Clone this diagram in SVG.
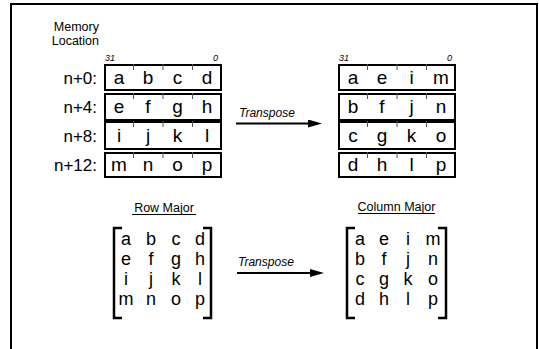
<svg xmlns="http://www.w3.org/2000/svg" width="539" height="349" viewBox="0 0 539 349">
<style>
text{font-family:"Liberation Sans",Arial,sans-serif;fill:#000}
.cell{font-size:19px;text-anchor:middle}
.lbl{font-size:17px;text-anchor:end}
.bit{font-size:9px;font-style:italic}
.mat{font-size:18px;text-anchor:middle}
.box{fill:#fff;stroke:#000;stroke-width:2}
.tick{stroke:#555;stroke-width:1}
.arr{stroke:#000;stroke-width:2;fill:none}
.brk{stroke:#000;stroke-width:2.5;fill:none}
.ttl{font-size:12.5px;text-anchor:middle}
.tr{font-size:12px;font-style:italic}
.mem{font-size:12.5px;text-anchor:end}
</style>
<defs>
<marker id="ah" markerUnits="userSpaceOnUse" markerWidth="14" markerHeight="8" refX="2" refY="4" orient="auto">
<path d="M0,0 L14,4 L0,8 z" fill="#000"/>
</marker>
</defs>
<rect id="frame" x="11" y="4" width="526" height="400" fill="none" stroke="#000" stroke-width="2"/>
<g id="memory-label">
<text class="mem" x="99" y="30.5">Memory</text>
<text class="mem" x="99" y="44.5">Location</text>
<text class="lbl" x="97" y="84">n+0:</text>
<text class="lbl" x="97" y="113">n+4:</text>
<text class="lbl" x="97" y="142">n+8:</text>
<text class="lbl" x="97" y="171">n+12:</text>
</g>
<g id="row-major-memory">
<text class="bit" x="105" y="61">31</text>
<text class="bit" x="218" y="61" text-anchor="end">0</text>
<rect class="box" x="105" y="65" width="116" height="25"/>
<rect class="box" x="105" y="94" width="116" height="26"/>
<rect class="box" x="105" y="122" width="116" height="27"/>
<rect class="box" x="105" y="153" width="116" height="24"/>
<path class="tick" d="M133.5,64v6M163,64v6M192.5,64v6M133.5,93v6M163,93v6M192.5,93v6M133.5,121v6M163,121v6M192.5,121v6M133.5,152v6M163,152v6M192.5,152v6"/>
<text class="cell" x="119" y="84">a</text><text class="cell" x="148" y="84">b</text><text class="cell" x="177.5" y="84">c</text><text class="cell" x="207" y="84">d</text>
<text class="cell" x="119" y="113">e</text><text class="cell" x="148" y="113">f</text><text class="cell" x="177.5" y="113">g</text><text class="cell" x="207" y="113">h</text>
<text class="cell" x="119" y="142">i</text><text class="cell" x="148" y="142">j</text><text class="cell" x="177.5" y="142">k</text><text class="cell" x="207" y="142">l</text>
<text class="cell" x="119" y="171">m</text><text class="cell" x="148" y="171">n</text><text class="cell" x="177.5" y="171">o</text><text class="cell" x="207" y="171">p</text>
</g>
<g id="column-major-memory">
<text class="bit" x="339" y="61">31</text>
<text class="bit" x="452" y="61" text-anchor="end">0</text>
<rect class="box" x="339" y="65" width="116" height="25"/>
<rect class="box" x="339" y="94" width="116" height="26"/>
<rect class="box" x="339" y="122" width="116" height="27"/>
<rect class="box" x="339" y="153" width="116" height="24"/>
<path class="tick" d="M367.5,64v6M397,64v6M426.5,64v6M367.5,93v6M397,93v6M426.5,93v6M367.5,121v6M397,121v6M426.5,121v6M367.5,152v6M397,152v6M426.5,152v6"/>
<text class="cell" x="353" y="84">a</text><text class="cell" x="382" y="84">e</text><text class="cell" x="411.5" y="84">i</text><text class="cell" x="441" y="84">m</text>
<text class="cell" x="353" y="113">b</text><text class="cell" x="382" y="113">f</text><text class="cell" x="411.5" y="113">j</text><text class="cell" x="441" y="113">n</text>
<text class="cell" x="353" y="142">c</text><text class="cell" x="382" y="142">g</text><text class="cell" x="411.5" y="142">k</text><text class="cell" x="441" y="142">o</text>
<text class="cell" x="353" y="171">d</text><text class="cell" x="382" y="171">h</text><text class="cell" x="411.5" y="171">l</text><text class="cell" x="441" y="171">p</text>
</g>
<g id="row-major-matrix">
<text class="ttl" x="164" y="212">Row Major</text>
<line x1="132" y1="214.5" x2="196" y2="214.5" stroke="#000" stroke-width="1"/>
<path class="brk" d="M122,228H114V318H122M203,228H211V318H203"/>
<text class="mat" x="126" y="245">a</text><text class="mat" x="151" y="245">b</text><text class="mat" x="176" y="245">c</text><text class="mat" x="200" y="245">d</text>
<text class="mat" x="126" y="265">e</text><text class="mat" x="151" y="265">f</text><text class="mat" x="176" y="265">g</text><text class="mat" x="200" y="265">h</text>
<text class="mat" x="126" y="285">i</text><text class="mat" x="151" y="285">j</text><text class="mat" x="176" y="285">k</text><text class="mat" x="200" y="285">l</text>
<text class="mat" x="126" y="305">m</text><text class="mat" x="151" y="305">n</text><text class="mat" x="176" y="305">o</text><text class="mat" x="200" y="305">p</text>
</g>
<g id="column-major-matrix">
<text class="ttl" x="396.5" y="211">Column Major</text>
<line x1="358" y1="213.5" x2="435" y2="213.5" stroke="#000" stroke-width="1"/>
<path class="brk" d="M355,228H347V318H355M438,228H446V318H438"/>
<text class="mat" x="360" y="245">a</text><text class="mat" x="384" y="245">e</text><text class="mat" x="408" y="245">i</text><text class="mat" x="433" y="245">m</text>
<text class="mat" x="360" y="265">b</text><text class="mat" x="384" y="265">f</text><text class="mat" x="408" y="265">j</text><text class="mat" x="433" y="265">n</text>
<text class="mat" x="360" y="285">c</text><text class="mat" x="384" y="285">g</text><text class="mat" x="408" y="285">k</text><text class="mat" x="433" y="285">o</text>
<text class="mat" x="360" y="305">d</text><text class="mat" x="384" y="305">h</text><text class="mat" x="408" y="305">l</text><text class="mat" x="433" y="305">p</text>
</g>
<g id="connectors">
<path class="arr" d="M236,123.5H310" marker-end="url(#ah)"/>
<text class="tr" x="239" y="117">Transpose</text>
<path class="arr" d="M237,273H312" marker-end="url(#ah)"/>
<text class="tr" x="238" y="266">Transpose</text>
</g>
</svg>
